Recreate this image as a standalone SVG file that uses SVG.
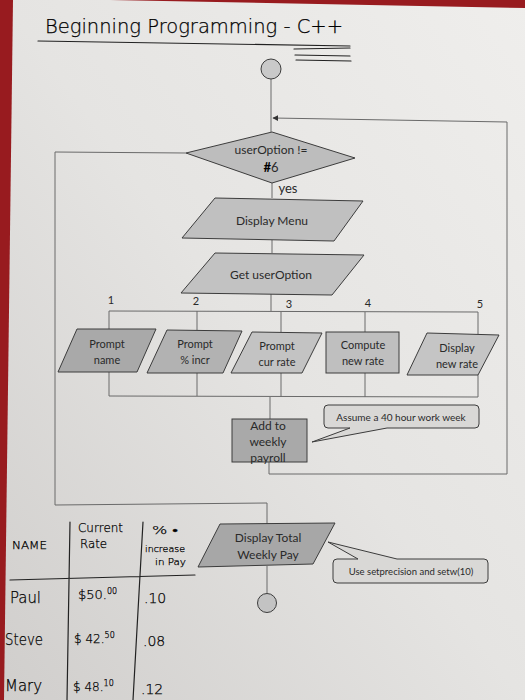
<svg xmlns="http://www.w3.org/2000/svg" width="525" height="700" viewBox="0 0 525 700">
<defs>
<linearGradient id="paper" x1="1" y1="0" x2="0" y2="1">
<stop offset="0" stop-color="#efeeec"/>
<stop offset="0.5" stop-color="#e5e4e2"/>
<stop offset="1" stop-color="#d0cecc"/>
</linearGradient>
<marker id="arr" viewBox="0 0 10 10" refX="9" refY="5" markerWidth="6" markerHeight="6" orient="auto-start-reverse">
<path d="M0,0 L10,5 L0,10 z" fill="#333"/>
</marker>
<style>
.ln{fill:none;stroke:#6a6a6a;stroke-width:1}
.sh{stroke:#3c3c3c;stroke-width:1}
.t{font-family:Lato,"Open Sans","Liberation Sans",sans-serif;fill:#2a2a2a;text-anchor:middle}
.hw{font-family:"DejaVu Sans","Liberation Sans",sans-serif;fill:#000;font-weight:200;stroke:#000;stroke-width:0.25}
.hl{fill:none;stroke:#222;stroke-width:1.2;stroke-linecap:round}
.co{fill:#d9d8d6;stroke:#3c3c3c;stroke-width:1}
</style>
</defs>
<rect x="0" y="0" width="525" height="700" fill="#981b1f"/>
<polygon points="13,0 110,0 525,8 525,700 4,700" fill="url(#paper)"/>

<g id="title">
<text class="hw" x="45" y="33" font-size="20" textLength="298" lengthAdjust="spacingAndGlyphs">Beginning  Programming -  C++</text>
<path class="hl" d="M38,41 Q200,43 350,46"/>
<path class="hl" d="M294,49 L350,48 M295,55 L350,56 M296,60 L351,61" stroke-width="1"/>
</g>

<g id="connectors">
<path class="ln" d="M271,79 L271,132"/>
<path class="ln" d="M269,462 L269,474 L507,474 L507,122 L273,118" marker-end="url(#arr)"/>
<path class="ln" d="M186,153 L55,152 L55,505 L267,503 L267,524"/>
<path class="ln" d="M272,183 L272,198"/>
<path class="ln" d="M272,240 L272,253"/>
<path class="ln" d="M271,294 L271,311"/>
<path class="ln" d="M109,311 L478,312"/>
<path class="ln" d="M109,311 L109,329 M197,311 L197,330 M281,312 L281,332 M365,312 L365,332 M478,312 L478,334"/>
<path class="ln" d="M109,372 L109,396 M197,373 L197,396 M281,373 L281,397 M365,373 L365,397 M478,375 L478,397"/>
<path class="ln" d="M109,396 L478,397"/>
<path class="ln" d="M270,397 L270,419"/>
<path class="ln" d="M267,566 L267,593"/>
</g>

<g id="start">
<circle cx="271" cy="69" r="10" fill="#c9c9c9" class="sh"/>
</g>

<g id="decision">
<polygon class="sh" points="186,153 272,132 355,158 272,183" fill="#bdbdbd"/>
<text class="t" x="271" y="154" font-size="12">userOption !=</text>
<text class="t" x="271" y="172" font-size="13"><tspan font-weight="bold" fill="#000">#</tspan>6</text>
<text class="t" x="288" y="193" font-size="13">yes</text>
</g>

<g id="displayMenu">
<polygon class="sh" points="215,198 363,201 334,241 182,238" fill="#c0c0c0"/>
<text class="t" x="272" y="225" font-size="12">Display Menu</text>
</g>

<g id="getOption">
<polygon class="sh" points="215,253 364,255 332,295 181,293" fill="#c2c2c2"/>
<text class="t" x="271" y="279" font-size="12">Get userOption</text>
</g>

<g id="labels">
<text class="t" x="111" y="304" font-size="11">1</text>
<text class="t" x="196" y="305" font-size="11">2</text>
<text class="t" x="289" y="308" font-size="11">3</text>
<text class="t" x="368" y="307" font-size="11">4</text>
<text class="t" x="480" y="308" font-size="11">5</text>
</g>

<g id="promptName">
<polygon class="sh" points="77,329 156,329 137,372 58,372" fill="#a9a9a9"/>
<text class="t" x="107" y="348" font-size="11">Prompt</text>
<text class="t" x="107" y="364" font-size="11">name</text>
</g>

<g id="promptIncr">
<polygon class="sh" points="167,330 242,331 223,373 147,373" fill="#b2b2b2"/>
<text class="t" x="195" y="348" font-size="11">Prompt</text>
<text class="t" x="195" y="364" font-size="11">% incr</text>
</g>

<g id="promptRate">
<polygon class="sh" points="252,332 322,333 302,373 231,373" fill="#c3c3c3"/>
<text class="t" x="277" y="350" font-size="11">Prompt</text>
<text class="t" x="277" y="366" font-size="11">cur rate</text>
</g>

<g id="computeRate">
<rect class="sh" x="326" y="332" width="73" height="41" fill="#bfbfbf"/>
<text class="t" x="363" y="349" font-size="11">Compute</text>
<text class="t" x="363" y="365" font-size="11">new rate</text>
</g>

<g id="displayRate">
<polygon class="sh" points="427,333 499,335 478,375 407,375" fill="#c5c5c5"/>
<text class="t" x="457" y="352" font-size="11">Display</text>
<text class="t" x="457" y="368" font-size="11">new rate</text>
</g>

<g id="assumeNote">
<path class="co" d="M328,405 L475,405 Q479,405 479,409 L479,424 Q479,428 475,428 L387,428 L312,442 L350,428 L328,428 Q324,428 324,424 L324,409 Q324,405 328,405 Z"/>
<text class="t" x="401" y="421" font-size="10">Assume a 40 hour work week</text>
</g>

<g id="payroll">
<rect class="sh" x="232" y="419" width="75" height="43" fill="#a9a9a9"/>
<text class="t" x="268" y="430" font-size="12">Add to</text>
<text class="t" x="268" y="446" font-size="12">weekly</text>
<text class="t" x="268" y="462" font-size="12">payroll</text>
</g>

<g id="displayTotal">
<polygon class="sh" points="220,524 335,523 313,564 198,567" fill="#a7a7a7"/>
<text class="t" x="268" y="542" font-size="12">Display Total</text>
<text class="t" x="268" y="559" font-size="12">Weekly Pay</text>
</g>

<g id="setwNote">
<path class="co" d="M337,559 L358,559 L328,542 L397,559 L484,559 Q488,559 488,563 L488,579 Q488,583 484,583 L337,583 Q333,583 333,579 L333,563 Q333,559 337,559 Z"/>
<text class="t" x="411" y="575" font-size="9.5">Use setprecision and setw(10)</text>
</g>

<g id="end">
<circle cx="267" cy="603" r="9.5" fill="#c3c3c3" class="sh"/>
</g>

<g id="table">
<path class="hl" d="M70,522 L67,700 M143,522 L133,700 M10,580 L195,575"/>
<text class="hw" x="12" y="549" font-size="10" textLength="35" lengthAdjust="spacingAndGlyphs">NAME</text>
<text class="hw" x="78" y="532" font-size="12" textLength="45" lengthAdjust="spacingAndGlyphs">Current</text>
<text class="hw" x="80" y="548" font-size="12" textLength="27" lengthAdjust="spacingAndGlyphs">Rate</text>
<text class="hw" x="152" y="534" font-size="11" textLength="26" lengthAdjust="spacingAndGlyphs">% •</text>
<text class="hw" x="145" y="552" font-size="9" textLength="40" lengthAdjust="spacingAndGlyphs">increase</text>
<text class="hw" x="155" y="565" font-size="9" textLength="31" lengthAdjust="spacingAndGlyphs">in Pay</text>
<text class="hw" x="10" y="603" font-size="16" textLength="31" lengthAdjust="spacingAndGlyphs">Paul</text>
<text class="hw" x="78" y="599" font-size="13">$50.<tspan font-size="8" dy="-5">00</tspan></text>
<text class="hw" x="144" y="603" font-size="14">.10</text>
<text class="hw" x="5" y="645" font-size="15" textLength="38" lengthAdjust="spacingAndGlyphs">Steve</text>
<text class="hw" x="74" y="643" font-size="12">$ 42.<tspan font-size="8" dy="-5">50</tspan></text>
<text class="hw" x="143" y="646" font-size="14">.08</text>
<text class="hw" x="5" y="691" font-size="15" textLength="37" lengthAdjust="spacingAndGlyphs">Mary</text>
<text class="hw" x="73" y="691" font-size="12">$ 48.<tspan font-size="8" dy="-5">10</tspan></text>
<text class="hw" x="141" y="694" font-size="14">.12</text>
</g>
</svg>
